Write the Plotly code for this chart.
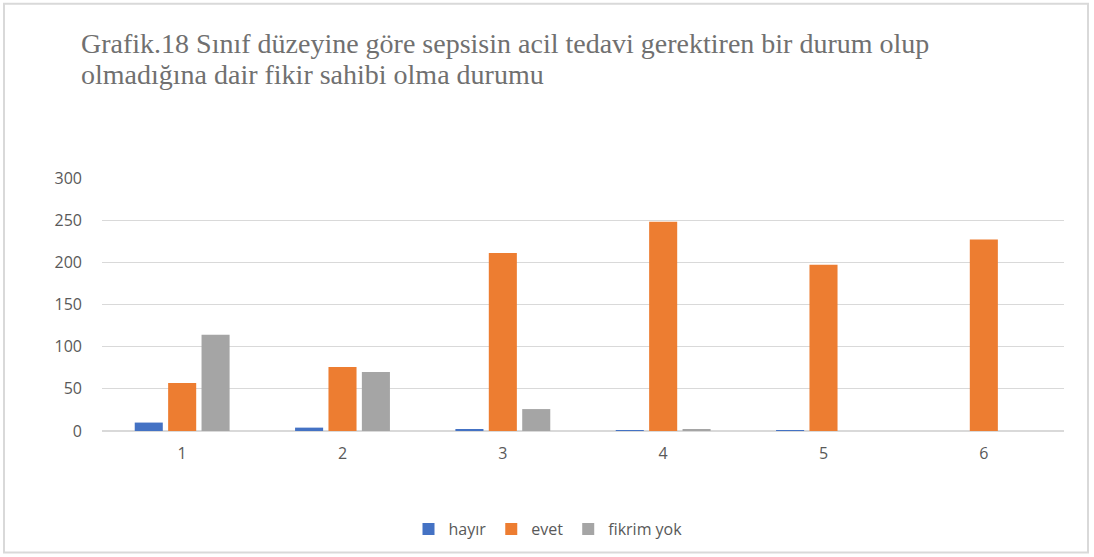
import plotly.graph_objects as go

categories = ["1", "2", "3", "4", "5", "6"]
hayir = [10, 4, 2, 1, 1, 0]
evet = [57, 76, 211, 248, 197, 227]
fikrim_yok = [114, 70, 26, 2, 0, 0]
series_names = ["hayır", "evet", "fikrim yok"]
colors = ["#4472C4", "#ED7D31", "#A5A5A5"]
y_ticks = [0, 50, 100, 150, 200, 250, 300]
title_lines = [
    "Grafik.18 Sınıf düzeyine göre sepsisin acil tedavi gerektiren bir durum olup",
    "olmadığına dair fikir sahibi olma durumu",
]

fig = go.Figure()
for name, vals, col in zip(series_names, [hayir, evet, fikrim_yok], colors):
    fig.add_trace(go.Bar(x=categories, y=vals, name=name, marker=dict(color=col, line=dict(width=0))))

L, R, T, B = 102, 30, 178, 125
W, H = 1094, 557
pw, ph = W - L - R, H - T - B

def py(ypix):
    return (H - B - ypix) / ph

def px(xpix):
    return (xpix - L) / pw

annotations = []
for line, yc in zip(title_lines, [43, 74]):
    annotations.append(dict(text=line, xref="paper", yref="paper", x=px(79), y=py(yc),
                            xanchor="left", yanchor="middle", showarrow=False,
                            font=dict(family="Liberation Serif, Times New Roman, serif", size=28, color="#707070")))

tick_font = dict(family="Open Sans, Liberation Sans, Arial", size=16, color="#595959")

fig.update_layout(
    width=W, height=H,
    margin=dict(l=L, r=R, t=T, b=B, pad=0),
    paper_bgcolor="white", plot_bgcolor="white",
    barmode="group", bargap=0.375, bargroupgap=0.16,
    font=tick_font,
    annotations=annotations,
    legend=dict(orientation="h", x=px(548), xanchor="center", y=py(529), yanchor="middle",
                font=tick_font, itemwidth=30, traceorder="normal"),
    xaxis=dict(showgrid=False, showline=True, linecolor="#d9d9d9", linewidth=1, ticks="",
               ticklabelstandoff=8, tickfont=tick_font),
    yaxis=dict(range=[0, 300], tickvals=y_ticks, showgrid=True, gridcolor="#d9d9d9", gridwidth=1,
               zeroline=True, zerolinecolor="#d9d9d9", showline=False, ticks="",
               ticklabelstandoff=19, tickfont=tick_font),
    shapes=[dict(type="rect", xref="paper", yref="paper",
                 x0=px(4), x1=px(1088), y0=py(554), y1=py(3),
                 line=dict(color="#d9d9d9", width=2), fillcolor="rgba(0,0,0,0)", layer="below")],
)

fig.write_html("out.html", config={"displayModeBar": False},
               post_script="document.body.style.margin='0';")
